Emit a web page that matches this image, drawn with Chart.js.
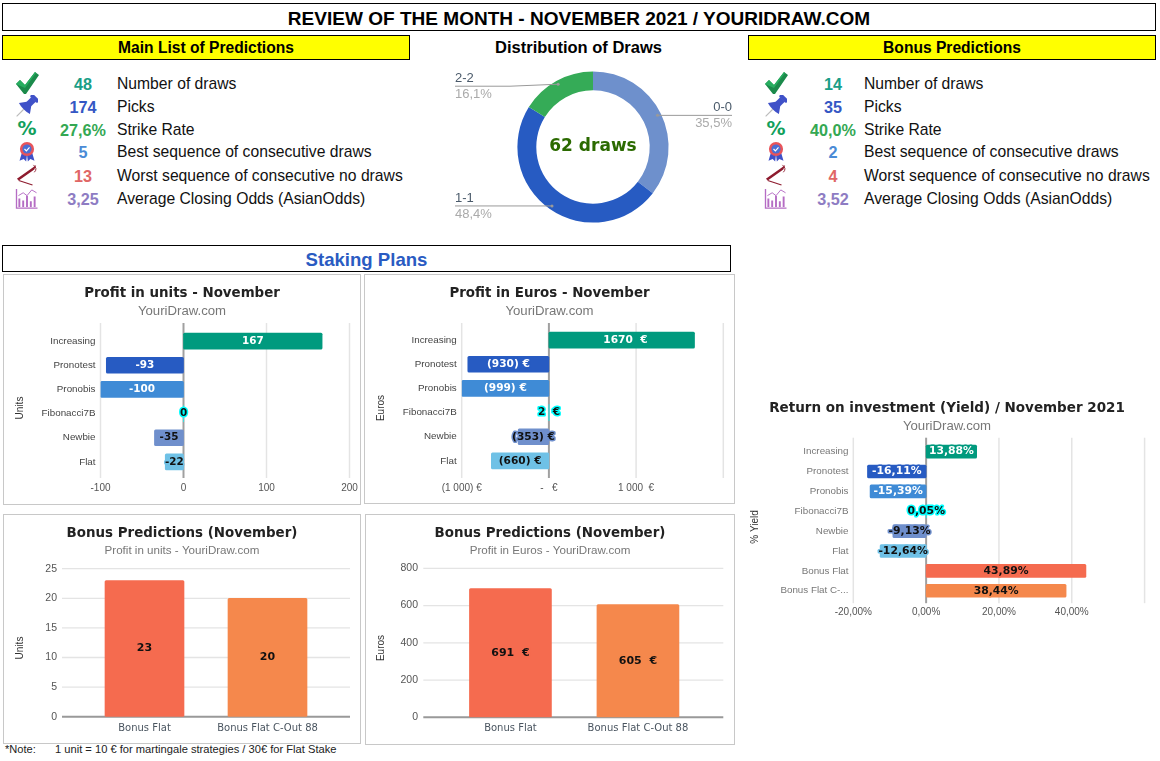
<!DOCTYPE html>
<html>
<head>
<meta charset="utf-8">
<title>Review of the month</title>
<script src="https://cdn.jsdelivr.net/npm/chart.js@4"></script>
<style>
  html, body { margin: 0; padding: 0; background: #fff; }
  body { width: 1160px; height: 761px; position: relative; overflow: hidden; font-family: "Liberation Sans", Arial, sans-serif; color: #000; }
  .box { position: absolute; box-sizing: border-box; border: 1px solid #000; text-align: center; font-weight: bold; }
  .yellow { background: #ffff00; font-size: 15.6px; line-height: 23px; top: 35px; height: 25px; width: 408px; }
  .card { position: absolute; box-sizing: border-box; border: 1px solid #c8c8c8; }
  canvas { position: absolute; }
  .txt { position: absolute; white-space: pre; transform: translateY(-50%); }
  .val { font-weight: bold; font-size: 16.2px; transform: translate(-50%, -50%); }
  svg { position: absolute; }
</style>
</head>
<body>
<svg width="0" height="0" style="position:absolute">
  <symbol id="ic-check" viewBox="0 0 24 24"><path d="M1 13 L5 9 L10 14 L20 1 L24 4 L11 23 L9 23 Z" fill="#1b8a4b"/><path d="M1 13 L5 9 L10 14 L20 1 L21 2 L10 17 Z" fill="#27ae60"/></symbol>
  <symbol id="ic-pin" viewBox="0 0 24 24"><g transform="rotate(45 12 12)"><rect x="6.5" y="-2" width="11" height="4.5" rx="2" fill="#3f51c8"/><rect x="8.5" y="2" width="7" height="9" fill="#3f51c8"/><path d="M8.5 9 L3.5 16 Q12 18.5 20.5 16 L15.5 9 Z" fill="#3f51c8"/><path d="M12 17 V28" stroke="#bbb" stroke-width="1.2"/></g></symbol>
  <symbol id="ic-medal" viewBox="0 0 24 24"><path d="M6 13 L3 23 L8 21 L11 24 L12 16 L13 24 L16 21 L21 23 L18 13 Z" fill="#3f51c8"/><circle cx="12" cy="9" r="8.5" fill="#e9545a"/><circle cx="12" cy="9" r="5.5" fill="#4a6fd4"/><path d="M9 9 L11.3 11.3 L15 7" stroke="#fff" stroke-width="1.4" fill="none"/></symbol>
  <symbol id="ic-needle" viewBox="0 0 24 24"><path d="M1 16 L18 4 L22 1 L20 6 L3 18 Z" fill="#8e1b2e"/><path d="M19 1 Q24 5 20 9" fill="none" stroke="#8e1b2e" stroke-width="1"/><path d="M3 18 L18 23" stroke="#8e1b2e" stroke-width="1.2"/></symbol>
  <symbol id="ic-chart" viewBox="0 0 24 22"><path d="M1 1 V21 H23" fill="none" stroke="#b56cc4" stroke-width="1.4"/><path d="M4 20 V11 M8 20 V13 M12 20 V8 M16 20 V14 M20 20 V9" stroke="#b56cc4" stroke-width="2"/><path d="M3 8 L8 5 L12 8 L17 2 L22 5" fill="none" stroke="#b56cc4" stroke-width="1"/></symbol>
</svg>

<div class="box" style="left:2px;top:3px;width:1154px;height:28px;font-size:19.05px;line-height:29px">REVIEW OF THE MONTH - NOVEMBER 2021 / YOURIDRAW.COM</div>
<div class="box yellow" style="left:2px">Main List of Predictions</div>
<div class="box yellow" style="left:748px">Bonus Predictions</div>
<div class="txt" style="left:578.5px;top:46.6px;font-weight:bold;font-size:16.5px;transform:translate(-50%,-50%)">Distribution of Draws</div>
<div class="box" style="left:2px;top:245px;width:729px;height:27px;font-size:18.6px;line-height:27px;color:#2a5bc2">Staking Plans</div>

<div class="card" style="left:3px;top:274px;width:358px;height:231px"></div>
<div class="card" style="left:364px;top:274px;width:371px;height:230px"></div>
<div class="card" style="left:3px;top:514px;width:358px;height:230px"></div>
<div class="card" style="left:365px;top:514px;width:370px;height:231px"></div>

<canvas id="donut" width="300" height="170" style="left:443px;top:62px"></canvas>
<canvas id="units" width="356" height="229" style="left:4px;top:275px"></canvas>
<canvas id="euros" width="369" height="228" style="left:365px;top:275px"></canvas>
<canvas id="yield" width="406" height="228" style="left:744px;top:394px"></canvas>
<canvas id="bonusUnits" width="356" height="228" style="left:4px;top:515px"></canvas>
<canvas id="bonusEuros" width="368" height="229" style="left:366px;top:515px"></canvas>

<div class="txt" style="left:5px;top:749px;font-size:11.1px;color:#222">*Note:</div>
<div class="txt" style="left:55px;top:749px;font-size:11.15px;color:#222">1 unit = 10 € for martingale strategies / 30€ for Flat Stake</div>

<script>
// stats
const rowLabels = ['Number of draws', 'Picks', 'Strike Rate', 'Best sequence of consecutive draws', 'Worst sequence of consecutive no draws', 'Average Closing Odds (AsianOdds)'];
const mainValues = ['48', '174', '27,6%', '5', '13', '3,25'];
const bonusValues = ['14', '35', '40,0%', '2', '4', '3,52'];
const rowColors = ['#1a9e87', '#3457c4', '#34a853', '#4a8bd6', '#e06666', '#8e7cc3'];
const rowIcons = ['ic-check', 'ic-pin', null, 'ic-medal', 'ic-needle', 'ic-chart'];

// donut
const drawLabels = ['0-0', '1-1', '2-2'];
const drawCounts = [22, 30, 10];
const drawShares = ['35,5%', '48,4%', '16,1%'];
const drawColors = ['#6e90cc', '#275bc2', '#35ab57'];

// bars
const strategies = ['Increasing', 'Pronotest', 'Pronobis', 'Fibonacci7B', 'Newbie', 'Flat'];
const unitValues = [167, -93, -100, 0, -35, -22];
const unitTicks = ['-100', '0', '100', '200'];
const euroValues = [1670, -930, -999, 2, -353, -660];
const euroLabels = ['  1670  €', '(930) €', '(999) €', '2  €', '(353) €', '(660) €'];
const euroTicks = ['(1 000) €', '-   €', '1 000  €', ''];
const strategyColors = ['#009a7e', '#275bc2', '#3f8bd6', '#00ffff', '#6f8fcc', '#6fc1e6'];
const strategyText = ['#fff', '#fff', '#fff', '#111', '#111', '#111'];

const yieldNames = ['Increasing', 'Pronotest', 'Pronobis', 'Fibonacci7B', 'Newbie', 'Flat', 'Bonus Flat', 'Bonus Flat C-...'];
const yieldValues = [13.88, -16.11, -15.39, 0.05, -9.13, -12.64, 43.89, 38.44];
const yieldTicks = ['-20,00%', '0,00%', '20,00%', '40,00%', ''];
const yieldColors = ['#009a7e', '#275bc2', '#3f8bd6', '#00ffff', '#6f8fcc', '#6fc1e6', '#f56b4f', '#f5884c'];
const yieldText = ['#fff', '#fff', '#fff', '#111', '#111', '#111', '#111', '#111'];

const bonusNames = ['Bonus Flat', 'Bonus Flat C-Out 88'];
const bonusUnitValues = [23, 20];
const bonusEuroValues = [691, 605];
const bonusEuroLabels = ['691  €', '605  €'];
const bonusColors = ['#f56b4f', '#f5884c'];
const bonusText = ['#111', '#111'];

// stat rows, html only
const rowY = [84, 107, 130, 152, 176, 199];
const iconSize = [[24, 24], [22, 22], [0, 0], [20, 21], [22, 22], [24, 21]];

function addText(cls, left, top, text, color) {
  const d = document.createElement('div');
  d.className = cls;
  d.style.left = left + 'px';
  d.style.top = top + 'px';
  d.textContent = text;
  if (color) d.style.color = color;
  document.body.appendChild(d);
}

function addRows(values, iconX, valueX, labelX) {
  rowLabels.forEach((label, i) => {
    addText('txt val', valueX, rowY[i], values[i], rowColors[i]);
    addText('txt', labelX, rowY[i], label, '#111');
    document.body.lastChild.style.fontSize = '15.7px';
    if (rowIcons[i]) {
      const [w, h] = iconSize[i];
      const svg = document.createElementNS('http://www.w3.org/2000/svg', 'svg');
      svg.setAttribute('width', w);
      svg.setAttribute('height', h);
      svg.style.left = (iconX - w / 2) + 'px';
      svg.style.top = (rowY[i] - 1 - h / 2) + 'px';
      const use = document.createElementNS('http://www.w3.org/2000/svg', 'use');
      use.setAttribute('href', '#' + rowIcons[i]);
      svg.appendChild(use);
      document.body.appendChild(svg);
    } else {
      addText('txt', iconX, rowY[i] - 2, '%', '#12a05c');
      const p = document.body.lastChild;
      p.style.font = 'bold 19px "DejaVu Sans"';
      p.style.transform = 'translate(-50%,-50%)';
    }
  });
}
addRows(mainValues, 27, 83, 117);
addRows(bonusValues, 776, 833, 864);

// grid lines run a little past the bars, same as the original
const gridPlugin = {
  id: 'looseGrid',
  beforeDatasetsDraw(chart, args, o) {
    if (!o.on) return;
    const { ctx, chartArea: a, scales } = chart;
    ctx.save();
    if (o.horizontal) {
      scales.x.ticks.forEach(t => {
        const px = scales.x.getPixelForValue(t.value);
        ctx.strokeStyle = t.value === 0 ? '#a0a0a0' : '#e4e4e4';
        ctx.lineWidth = t.value === 0 ? 2 : 1.5;
        ctx.beginPath();
        ctx.moveTo(px, a.top - o.over);
        ctx.lineTo(px, a.bottom + o.under);
        ctx.stroke();
      });
    } else {
      scales.y.ticks.forEach(t => {
        const py = scales.y.getPixelForValue(t.value);
        ctx.strokeStyle = t.value === 0 ? '#999' : '#e4e4e4';
        ctx.lineWidth = t.value === 0 ? 2 : 1.3;
        ctx.beginPath();
        ctx.moveTo(a.left - o.over, py);
        ctx.lineTo(a.right + o.under, py);
        ctx.stroke();
      });
    }
    ctx.restore();
  }
};

// value on each bar, with a halo in the bar colour
const labelPlugin = {
  id: 'barText',
  afterDatasetsDraw(chart, args, o) {
    if (!o.texts) return;
    const { ctx } = chart;
    const meta = chart.getDatasetMeta(0);
    ctx.save();
    ctx.font = 'bold ' + o.size + 'px "DejaVu Sans"';
    ctx.textAlign = 'center';
    ctx.textBaseline = 'middle';
    ctx.lineJoin = 'round';
    meta.data.forEach((bar, i) => {
      const c = bar.getCenterPoint();
      ctx.lineWidth = 3;
      ctx.strokeStyle = o.halo[i];
      ctx.strokeText(o.texts[i], c.x, c.y);
      ctx.fillStyle = o.colors[i];
      ctx.fillText(o.texts[i], c.x, c.y);
    });
    ctx.restore();
  }
};

// axis name placed by hand
const axisNamePlugin = {
  id: 'axisName',
  afterDraw(chart, args, o) {
    if (!o.text) return;
    const { ctx } = chart;
    ctx.save();
    ctx.translate(o.x, o.y);
    ctx.rotate(-Math.PI / 2);
    ctx.font = '10px "Liberation Sans"';
    ctx.fillStyle = '#333';
    ctx.textAlign = 'center';
    ctx.textBaseline = 'middle';
    ctx.fillText(o.text, 0, 0);
    ctx.restore();
  }
};

// tick labels may hang over the plot without shrinking it
function noPad(s) {
  s.paddingLeft = s.paddingRight = s.paddingTop = s.paddingBottom = 0;
}

function barChart(id, c) {
  const cv = document.getElementById(id);
  const box = { left: parseFloat(cv.style.left), top: parseFloat(cv.style.top), w: cv.width, h: cv.height };
  const titleH = c.titleSize * 1.2, subH = c.subSize * 1.2;
  const titleTop = c.titleY - box.top - titleH / 2;
  const subGap = c.subY - c.titleY - titleH / 2 - subH / 2;
  const subBottom = c.plot.top - c.subY - subH / 2;

  const fit = (scale, isWidth) => {
    noPad(scale);
    if (isWidth) scale.width = c.plot.left - box.left;
    else scale.height = box.top + box.h - c.plot.bottom;
  };
  const horizontal = c.horizontal;
  const catAxis = {
    grid: { display: false, drawTicks: false },
    border: { display: false },
    ticks: {
      autoSkip: false, maxRotation: 0, minRotation: 0,
      padding: horizontal ? c.plot.left - c.labelEnd : c.catPad,
      color: horizontal ? c.catColor : '#4a5560',
      font: horizontal ? { family: 'Liberation Sans', size: 9.8 } : { family: 'DejaVu Sans', size: 10 }
    },
    afterFit: s => fit(s, horizontal)
  };
  const valAxis = {
    min: c.min, max: c.max,
    grid: { display: false, drawTicks: false },
    border: { display: false },
    ticks: {
      stepSize: c.step, autoSkip: false, maxRotation: 0, minRotation: 0,
      padding: horizontal ? c.valPad : c.plot.left - c.labelEnd,
      color: '#555',
      font: { family: 'Liberation Sans', size: horizontal ? 10 : 10.5 },
      callback: c.ticks ? ((v, i) => c.ticks[i]) : undefined
    },
    afterFit: s => fit(s, !horizontal)
  };
  // empty axis on the right, keeps the title centred on the whole card
  const spacer = {
    type: 'linear', axis: 'y', position: 'right',
    grid: { display: false, drawTicks: false },
    border: { display: false },
    ticks: { display: false },
    afterFit: s => { noPad(s); s.width = box.left + box.w - c.plot.right; }
  };

  return new Chart(cv, {
    type: 'bar',
    data: {
      labels: c.labels,
      datasets: [{
        data: c.values,
        backgroundColor: c.colors,
        barThickness: c.barSize,
        borderRadius: 1.5,
        borderSkipped: false
      }]
    },
    plugins: [gridPlugin, labelPlugin, axisNamePlugin],
    options: {
      indexAxis: horizontal ? 'y' : 'x',
      responsive: false,
      animation: false,
      layout: { autoPadding: false },
      scales: horizontal ? { x: valAxis, y: catAxis, spacer } : { x: catAxis, y: valAxis, spacer },
      plugins: {
        legend: { display: false },
        tooltip: { enabled: false },
        title: {
          display: true, text: c.title, color: '#222',
          font: { family: 'DejaVu Sans', size: c.titleSize, weight: 'bold' },
          padding: { top: titleTop, bottom: 0 }
        },
        subtitle: {
          display: true, text: c.sub, color: '#777',
          font: { family: 'Liberation Sans', size: c.subSize },
          padding: { top: subGap, bottom: subBottom }
        },
        looseGrid: { on: true, horizontal, over: c.over, under: c.under },
        barText: { texts: c.texts, size: c.textSize, halo: c.colors, colors: c.textColors },
        axisName: { text: c.axis, x: c.axisX - box.left, y: c.axisY - box.top }
      }
    }
  });
}

barChart('units', {
  horizontal: true, labels: strategies, values: unitValues, colors: strategyColors, textColors: strategyText,
  texts: unitValues.map(String), textSize: 10.4, ticks: unitTicks, min: -100, max: 200, step: 100,
  title: 'Profit in units - November', sub: 'YouriDraw.com', titleSize: 13.4, subSize: 13.2, titleY: 294, subY: 311,
  plot: { left: 100.5, right: 349.5, top: 329, bottom: 474 }, over: 6, under: 4, labelEnd: 95.5, valPad: 8,
  barSize: 16, catColor: '#444', axis: 'Units', axisX: 20, axisY: 408
});
barChart('euros', {
  horizontal: true, labels: strategies, values: euroValues, colors: strategyColors, textColors: strategyText,
  texts: euroLabels, textSize: 10.6, ticks: euroTicks, min: -1000, max: 2000, step: 1000,
  title: 'Profit in Euros - November', sub: 'YouriDraw.com', titleSize: 13.4, subSize: 13.2, titleY: 294, subY: 311,
  plot: { left: 461.7, right: 723.3, top: 328, bottom: 473 }, over: 5, under: 5, labelEnd: 456.7, valPad: 9,
  barSize: 16, catColor: '#444', axis: 'Euros', axisX: 381, axisY: 408
});
barChart('yield', {
  horizontal: true, labels: yieldNames, values: yieldValues, colors: yieldColors, textColors: yieldText,
  texts: yieldValues.map(v => v.toFixed(2).replace('.', ',') + '%'), textSize: 10.8, ticks: yieldTicks, min: -20, max: 60, step: 20,
  title: 'Return on investment (Yield) / November 2021', sub: 'YouriDraw.com', titleSize: 13.5, subSize: 13.2, titleY: 408, subY: 426,
  plot: { left: 853.3, right: 1144.6, top: 441.7, bottom: 600.7 }, over: 4, under: 2.5, labelEnd: 848.5, valPad: 6,
  barSize: 13, catColor: '#777', axis: '% Yield', axisX: 755, axisY: 527
});
barChart('bonusUnits', {
  horizontal: false, labels: bonusNames, values: bonusUnitValues, colors: bonusColors, textColors: bonusText,
  texts: bonusUnitValues.map(String), textSize: 11, min: 0, max: 25, step: 5,
  title: 'Bonus Predictions (November)', sub: 'Profit in units - YouriDraw.com', titleSize: 13.4, subSize: 11.6, titleY: 534, subY: 551,
  plot: { left: 83, right: 329, top: 568.7, bottom: 716.7 }, over: 21, under: 21, labelEnd: 57, catPad: 6,
  barSize: 79, axis: 'Units', axisX: 20, axisY: 648
});
barChart('bonusEuros', {
  horizontal: false, labels: bonusNames, values: bonusEuroValues, colors: bonusColors, textColors: bonusText,
  texts: bonusEuroLabels, textSize: 11, min: 0, max: 800, step: 200,
  title: 'Bonus Predictions (November)', sub: 'Profit in Euros - YouriDraw.com', titleSize: 13.4, subSize: 11.6, titleY: 534, subY: 551,
  plot: { left: 446.7, right: 701.7, top: 568.3, bottom: 717.3 }, over: 23.4, under: 21.6, labelEnd: 418, catPad: 5,
  barSize: 82, axis: 'Euros', axisX: 381, axisY: 648
});

// leader lines and centre text of the donut
const lineDrop = [0, 0, 2];
const donutPlugin = {
  id: 'donutText',
  afterDraw(chart) {
    const { ctx } = chart;
    const arcs = chart.getDatasetMeta(0).data;
    ctx.save();
    ctx.font = 'bold 17px "DejaVu Sans"';
    ctx.fillStyle = '#2b6a00';
    ctx.textAlign = 'center';
    ctx.textBaseline = 'middle';
    ctx.fillText('62 draws', arcs[0].x, arcs[0].y);

    ctx.font = '13px "Liberation Sans"';
    arcs.forEach((arc, i) => {
      const mid = (arc.startAngle + arc.endAngle) / 2;
      const r = arc.outerRadius * 0.95;
      const dx = arc.x + Math.cos(mid) * r;
      const dy = arc.y + Math.sin(mid) * r;
      const right = Math.cos(mid) > 0;
      const edge = right ? chart.width - 11 : 12;
      const lineY = dy + lineDrop[i];
      ctx.strokeStyle = '#999';
      ctx.lineWidth = 1;
      ctx.beginPath();
      ctx.moveTo(edge, lineY);
      if (lineDrop[i]) ctx.lineTo(edge + 55, lineY);
      ctx.lineTo(dx, dy);
      ctx.stroke();
      ctx.fillStyle = '#999';
      ctx.beginPath();
      ctx.arc(dx, dy, 1.5, 0, Math.PI * 2);
      ctx.fill();
      ctx.textAlign = right ? 'right' : 'left';
      ctx.fillStyle = '#4a5a6a';
      ctx.fillText(drawLabels[i], edge, lineY - 8);
      ctx.fillStyle = '#aaa';
      ctx.fillText(drawShares[i], edge, lineY + 8);
    });
    ctx.restore();
  }
};

new Chart(document.getElementById('donut'), {
  type: 'doughnut',
  data: {
    labels: drawLabels,
    datasets: [{ data: drawCounts, backgroundColor: drawColors, borderWidth: 0 }]
  },
  plugins: [donutPlugin],
  options: {
    responsive: false,
    animation: false,
    cutout: '75%',
    layout: { padding: { top: 9.4, bottom: 9.4 } },
    plugins: { legend: { display: false }, tooltip: { enabled: false } }
  }
});
</script>
</body>
</html>
